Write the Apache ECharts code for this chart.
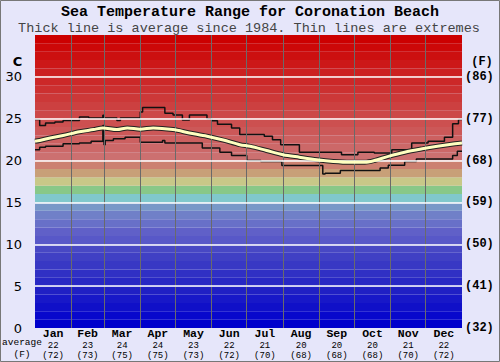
<!DOCTYPE html>
<html><head><meta charset="utf-8">
<script src="https://cdn.jsdelivr.net/npm/echarts@6/dist/echarts.min.js"></script>
<style>html,body{margin:0;padding:0;background:#e6e6fa}#c{width:500px;height:362px}</style>
</head><body><div id="c"></div><script>
// ---- data ----
const months = ['Jan','Feb','Mar','Apr','May','Jun','Jul','Aug','Sep','Oct','Nov','Dec'];
const monthStartDays = [31,59,90,120,151,181,212,243,273,304,334];
const monthMidDays = [15.5,45,74.5,105,135.5,166,196.5,227.5,258,288.5,319,349.5];
const avgMonthC = [22,23,24,24,23,22,21,20,20,20,21,22];
const avgMonthF = [72,73,75,75,73,72,70,68,68,68,70,72];
const yTicksC = [0,5,10,15,20,25,30];
const yTicksF = [32,41,50,59,68,77,86];
// [day of year, °C]
const avgLine = [[0,22.3],[4,22.4],[13,22.7],[24,23.0],[38,23.45],[50,23.7],[58,23.9],[70,23.7],[79,23.9],[90,23.75],[101,23.9],[118,23.7],[132,23.3],[147,22.9],[161,22.45],[175,21.9],[184,21.7],[198,21.2],[212,20.7],[226,20.4],[241,20.1],[255,19.9],[269,19.8],[282,19.8],[290,20.0],[302,20.5],[316,21.0],[331,21.4],[344,21.7],[359,22.0],[365,22.1]];
const maxLine = [[0,24.9],[4,24.2],[9,24.5],[17,24.6],[24,24.8],[38,25.2],[46,25.1],[58,25.4],[59,25.1],[70,24.8],[73,25.1],[90,25.8],[92,26.35],[111,25.65],[118,25.45],[126,24.85],[132,25.45],[147,25.0],[151,24.75],[156,24.35],[168,23.9],[175,23.1],[196,22.9],[203,22.5],[210,21.9],[226,21.0],[262,20.7],[276,21.0],[290,20.9],[305,21.3],[322,22.1],[336,22.3],[350,22.8],[357,24.4],[362,24.9],[365,24.9]];
const minLine = [[0,21.3],[4,21.6],[9,21.7],[24,22.0],[38,22.1],[48,22.3],[58,24.2],[59,21.9],[60,22.4],[67,22.6],[77,22.8],[90,22.2],[109,22.4],[111,22.1],[143,21.5],[158,21.0],[168,20.6],[181,20.0],[193,19.9],[211,19.4],[246,18.4],[248,18.5],[261,18.8],[295,19.1],[302,19.45],[316,19.9],[326,20.2],[357,20.6],[361,21.1],[365,21.1]];

// ---- style ----
const bandColors = ['#0000cc','#0808cc','#1010c8','#1818c8','#2020c4','#2828c4','#3030c4','#3838c4','#4040c4','#4848c4',
  '#5858c8','#6060c8','#6870c8','#7080c8','#7898c8','#80c8cc','#88c888','#c8c888','#c8a078','#cc8070',
  '#cc7070','#cc6868','#cc6060','#cc5858','#cc5050','#cc4848','#cc4040','#cc3838','#cc3030','#cc2828',
  '#cc2020','#cc1818','#cc1010','#cc0808','#cc0000'];

const bandAreas = bandColors.map((c, i) => [{yAxis: i, itemStyle: {color: c}}, {yAxis: i + 1}]);
const hLines = yTicksC.filter(v => v > 0).map(v => ({yAxis: v, lineStyle: {color: '#ffffff', width: 1.5, type: 'solid'}}));
const vLines = monthStartDays.map(d => ({xAxis: d, lineStyle: {color: '#6a6a6a', width: 1, type: 'solid'}}));

const chart = echarts.init(document.getElementById('c'), null, {renderer: 'svg'});
const mono = '"Liberation Mono", "Courier New", monospace';
function monthIndex(v) {
  let k = 0, best = 1e9;
  monthMidDays.forEach((m, i) => { if (Math.abs(m - v) < best) { best = Math.abs(m - v); k = i; } });
  return k;
}
function bottomAxis(margin, size, bold, fmt) {
  return {
    type: 'value', min: 0, max: 365, position: 'bottom', offset: 0,
    axisLine: {show: false}, axisTick: {show: false}, splitLine: {show: false},
    axisLabel: {customValues: monthMidDays, margin: margin, interval: 0, color: '#000',
      fontFamily: mono, fontSize: size, fontWeight: bold ? 'bold' : 'normal', lineHeight: size,
      formatter: v => fmt(monthIndex(v))}
  };
}
chart.setOption({
  backgroundColor: '#e6e6fa',
  animation: false,
  grid: {left: 35, right: 38, top: 35, bottom: 34},
  xAxis: [
    bottomAxis(0, 11.5, true, k => months[k]),
    bottomAxis(13, 9, false, k => String(avgMonthC[k])),
    bottomAxis(23.5, 9, false, k => '(' + avgMonthF[k] + ')')
  ],
  yAxis: [
    {type: 'value', min: 0, max: 35, interval: 5,
     axisLine: {show: false}, axisTick: {show: false}, splitLine: {show: false},
     axisLabel: {margin: 13, color: '#000', fontFamily: '"DejaVu Sans", sans-serif', fontSize: 13,
       formatter: v => v === 35 ? '' : String(v)}},
    {type: 'value', min: 0, max: 35, interval: 5, position: 'right',
     axisLine: {show: false}, axisTick: {show: false}, splitLine: {show: false},
     axisLabel: {margin: 3, color: '#000', fontFamily: mono, fontSize: 12, fontWeight: 'bold',
       formatter: v => v === 35 ? '' : '(' + yTicksF[yTicksC.indexOf(v)] + ')'}}
  ],
  graphic: [
    {type: 'text', z: 10, style: {text: 'Sea Temperature Range for Coronation Beach', x: 250, y: 12, align: 'center', verticalAlign: 'middle', font: 'bold 15px ' + mono, fill: '#000'}},
    {type: 'text', z: 10, style: {text: 'Thick line is average since 1984. Thin lines are extremes', x: 249, y: 28.5, align: 'center', verticalAlign: 'middle', font: '13.5px ' + mono, fill: '#444'}},
    {type: 'text', z: 10, style: {text: 'C', x: 17.5, y: 61, align: 'center', verticalAlign: 'middle', font: 'bold 13px "DejaVu Sans", sans-serif', fill: '#000'}},
    {type: 'text', z: 10, style: {text: '(F)', x: 482, y: 62, align: 'center', verticalAlign: 'middle', font: 'bold 12px ' + mono, fill: '#000'}},
    {type: 'text', z: 10, style: {text: 'average', x: 22, y: 342.5, align: 'center', verticalAlign: 'middle', font: '9.5px ' + mono, fill: '#000'}},
    {type: 'text', z: 10, style: {text: '(F)', x: 22, y: 354, align: 'center', verticalAlign: 'middle', font: '9.5px ' + mono, fill: '#000'}},
    {type: 'rect', z: 10, shape: {x: 0.5, y: 0.5, width: 499, height: 361}, style: {fill: 'none', stroke: '#777', lineWidth: 1}}
  ],
  series: [
    {type: 'line', z: 1, data: [[0, 0]], showSymbol: false, lineStyle: {opacity: 0}, silent: true,
     markArea: {silent: true, data: bandAreas}},
    {type: 'line', z: 2, data: [[0, 0]], showSymbol: false, lineStyle: {opacity: 0}, silent: true,
     markLine: {silent: true, symbol: ['none', 'none'], label: {show: false}, data: vLines.concat(hLines)}},
    {type: 'line', z: 3, data: maxLine, step: 'end', showSymbol: false, lineStyle: {color: '#111', width: 1.5}},
    {type: 'line', z: 3, data: minLine, step: 'end', showSymbol: false, lineStyle: {color: '#111', width: 1.5}},
    {type: 'line', z: 4, data: avgLine, smooth: 0.3, showSymbol: false, lineStyle: {color: '#222', width: 5}},
    {type: 'line', z: 5, data: avgLine, smooth: 0.3, showSymbol: false, lineStyle: {color: '#ffffc0', width: 3}}
  ]
});
</script></body></html>
